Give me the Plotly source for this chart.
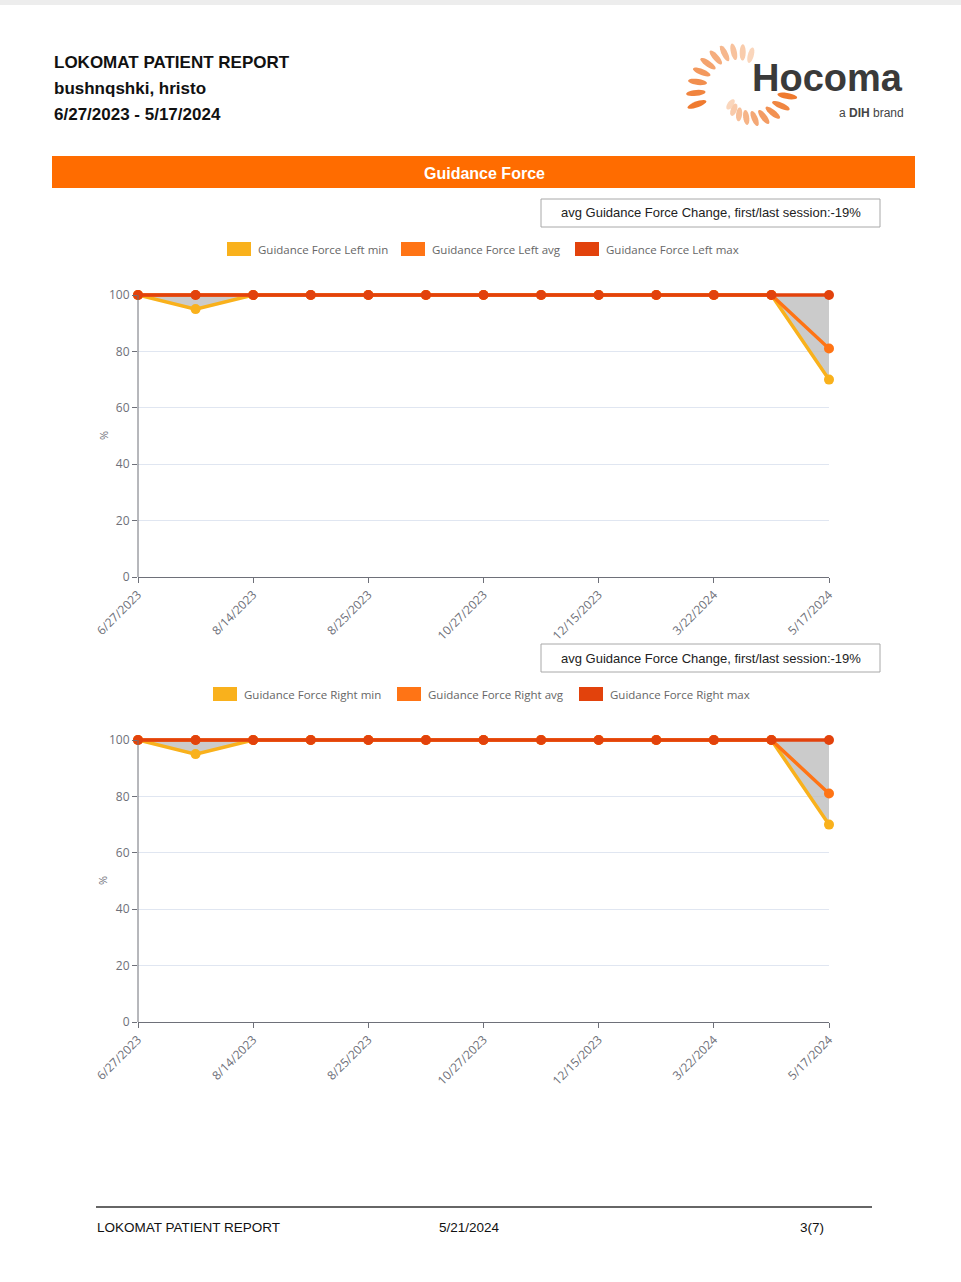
import numpy as np
import plotly.graph_objects as go

W, H = 961, 1282

# ---------------- data ----------------
tick_labels = ["6/27/2023", "8/14/2023", "8/25/2023", "10/27/2023",
               "12/15/2023", "3/22/2024", "5/17/2024"]
sessions = list(range(13))

left_min = [100, 95, 100, 100, 100, 100, 100, 100, 100, 100, 100, 100, 70]
left_avg = [100, 100, 100, 100, 100, 100, 100, 100, 100, 100, 100, 100, 81]
left_max = [100, 100, 100, 100, 100, 100, 100, 100, 100, 100, 100, 100, 100]

right_min = [100, 95, 100, 100, 100, 100, 100, 100, 100, 100, 100, 100, 70]
right_avg = [100, 100, 100, 100, 100, 100, 100, 100, 100, 100, 100, 100, 81]
right_max = [100, 100, 100, 100, 100, 100, 100, 100, 100, 100, 100, 100, 100]

left_names = ["Guidance Force Left min", "Guidance Force Left avg", "Guidance Force Left max"]
right_names = ["Guidance Force Right min", "Guidance Force Right avg", "Guidance Force Right max"]
change_text = "avg Guidance Force Change, first/last session:-19%"

# ---------------- styles ----------------
C_MIN, C_AVG, C_MAX = "#F9B11C", "#FF7415", "#E2420C"
C_FILL = "rgba(190,190,190,0.8)"
AXIS = "#6E7079"
GRID = "#E0E6F1"
ORANGE = "#FF6C00"
Y_TOP = 101.5   # small headroom so the 100-line is not clipped


def X(px):
    return px / W


def Y(py):
    return 1 - py / H


fig = go.Figure()
shapes, annots = [], []

charts = [
    dict(top=295, bot=577, xa="x", ya="y", mn=left_min, av=left_avg, mx=left_max,
         names=left_names, leg_y=249, leg_x=[227, 401, 575], box_y=213),
    dict(top=740, bot=1022, xa="x2", ya="y2", mn=right_min, av=right_avg, mx=right_max,
         names=right_names, leg_y=694, leg_x=[213, 397, 579], box_y=658),
]

for ch in charts:
    xa, ya = ch["xa"], ch["ya"]
    # grey band between max and min
    fig.add_trace(go.Scatter(x=sessions, y=ch["mx"], mode="lines", line=dict(width=0),
                             showlegend=False, hoverinfo="skip", xaxis=xa, yaxis=ya))
    fig.add_trace(go.Scatter(x=sessions, y=ch["mn"], mode="lines", line=dict(width=0),
                             fill="tonexty", fillcolor=C_FILL,
                             showlegend=False, hoverinfo="skip", xaxis=xa, yaxis=ya))
    for vals, col, nm in zip([ch["mn"], ch["av"], ch["mx"]], [C_MIN, C_AVG, C_MAX], ch["names"]):
        fig.add_trace(go.Scatter(x=sessions, y=vals, mode="lines+markers", name=nm,
                                 line=dict(color=col, width=3.5),
                                 marker=dict(color=col, size=10),
                                 cliponaxis=False, showlegend=False, hoverinfo="skip",
                                 xaxis=xa, yaxis=ya))
    # y axis line (drawn only from 0 to 100)
    shapes.append(dict(type="line", xref="paper", yref="paper", x0=X(138), x1=X(138),
                       y0=Y(ch["bot"]), y1=Y(ch["top"]), line=dict(color=AXIS, width=1)))
    # legend (rectangles + text)
    for lx, col, nm in zip(ch["leg_x"], [C_MIN, C_AVG, C_MAX], ch["names"]):
        shapes.append(dict(type="rect", xref="paper", yref="paper",
                           x0=X(lx), x1=X(lx + 24), y0=Y(ch["leg_y"] - 7), y1=Y(ch["leg_y"] + 7),
                           fillcolor=col, line=dict(width=0)))
        annots.append(dict(x=X(lx + 29), y=Y(ch["leg_y"]), xref="paper", yref="paper",
                           text=nm, showarrow=False, xanchor="left", yanchor="middle",
                           font=dict(family="Open Sans", size=11.5, color="#666666")))
    # change box
    shapes.append(dict(type="rect", xref="paper", yref="paper",
                       x0=X(541), x1=X(880), y0=Y(ch["box_y"] - 14), y1=Y(ch["box_y"] + 14),
                       fillcolor="white", line=dict(color="#A8A8A8", width=1)))
    annots.append(dict(x=X(711), y=Y(ch["box_y"]), xref="paper", yref="paper",
                       text=change_text, showarrow=False, xanchor="center", yanchor="middle",
                       font=dict(family="Liberation Sans", size=13, color="#222222")))
    # y title
    annots.append(dict(x=X(103), y=Y((ch["top"] + ch["bot"]) / 2), xref="paper", yref="paper",
                       text="%", showarrow=False, textangle=-90, xanchor="center", yanchor="middle",
                       font=dict(family="Open Sans", size=11, color=AXIS)))

axis_common_x = dict(range=[0, 12], tickvals=sessions[::2], ticktext=tick_labels,
                     tickangle=-45, showline=True, linecolor=AXIS, linewidth=1,
                     ticks="outside", ticklen=5, tickcolor=AXIS, showgrid=False, zeroline=False,
                     tickfont=dict(family="Open Sans", size=12, color=AXIS), fixedrange=True,
                     automargin=False)
axis_common_y = dict(range=[0, Y_TOP], tickvals=[0, 20, 40, 60, 80, 100],
                     showline=False,
                     ticks="outside", ticklen=5, tickcolor=AXIS,
                     showgrid=True, gridcolor=GRID, gridwidth=1, zeroline=False,
                     tickfont=dict(family="Open Sans", size=12, color=AXIS), fixedrange=True,
                     automargin=False)


def ydom(top, bot):
    ppu = (bot - top) / 100.0
    return [Y(bot), Y(top - (Y_TOP - 100) * ppu)]


fig.update_layout(
    xaxis=dict(domain=[X(138), X(829)], anchor="y", **axis_common_x),
    yaxis=dict(domain=ydom(295, 577), anchor="x", **axis_common_y),
    xaxis2=dict(domain=[X(138), X(829)], anchor="y2", **axis_common_x),
    yaxis2=dict(domain=ydom(740, 1022), anchor="x2", **axis_common_y),
)

# ---------------- page decorations ----------------
shapes.append(dict(type="rect", xref="paper", yref="paper", x0=0, x1=1, y0=Y(5), y1=1,
                   fillcolor="#EDEDED", line=dict(width=0), layer="below"))
# orange band
shapes.append(dict(type="rect", xref="paper", yref="paper", x0=X(52), x1=X(915),
                   y0=Y(188), y1=Y(156), fillcolor=ORANGE, line=dict(width=0)))
annots.append(dict(x=X(484), y=Y(173), xref="paper", yref="paper", text="<b>Guidance Force</b>",
                   showarrow=False, xanchor="center", yanchor="middle",
                   font=dict(family="Liberation Sans", size=16, color="white")))
# header
for txt, py in [("LOKOMAT PATIENT REPORT", 62), ("bushnqshki, hristo", 88),
                ("6/27/2023 - 5/17/2024", 114)]:
    annots.append(dict(x=X(52), y=Y(py), xref="paper", yref="paper", text="<b>" + txt + "</b>",
                       showarrow=False, xanchor="left", yanchor="middle",
                       font=dict(family="Liberation Sans", size=17, color="#111111")))
# footer
shapes.append(dict(type="line", xref="paper", yref="paper", x0=X(96), x1=X(872),
                   y0=Y(1207), y1=Y(1207), line=dict(color="#333333", width=1.5)))
for txt, px, anc in [("LOKOMAT PATIENT REPORT", 95, "left"), ("5/21/2024", 437, "left"),
                     ("3(7)", 826, "right")]:
    annots.append(dict(x=X(px), y=Y(1227), xref="paper", yref="paper", text=txt,
                       showarrow=False, xanchor=anc, yanchor="middle",
                       font=dict(family="Liberation Sans", size=13.5, color="#111111")))

# logo text
annots.append(dict(x=X(750), y=Y(78), xref="paper", yref="paper", text="<b>Hocoma</b>",
                   showarrow=False, xanchor="left", yanchor="middle",
                   font=dict(family="Liberation Sans", size=38, color="#3A3A3A")))
annots.append(dict(x=X(906), y=Y(113), xref="paper", yref="paper",
                   text="a <b>DIH</b> brand", showarrow=False, xanchor="right", yanchor="middle",
                   font=dict(family="Liberation Sans", size=12, color="#444444")))


# logo swirl petals
def petal(cx, cy, ang, length, width):
    t = np.linspace(0, 2 * np.pi, 24)
    ex = length / 2 * np.cos(t)
    ey = width / 2 * np.sin(t)
    ca, sa = np.cos(ang), np.sin(ang)
    pxs = cx + ex * ca - ey * sa
    pys = cy - (ex * sa + ey * ca)
    pts = [f"{X(a):.5f},{Y(b):.5f}" for a, b in zip(pxs, pys)]
    return "M" + " L".join(pts) + " Z"


def mix(c1, c2, f):
    a = [int(c1[i:i + 2], 16) for i in (1, 3, 5)]
    b = [int(c2[i:i + 2], 16) for i in (1, 3, 5)]
    return "#" + "".join(f"{int(round(a[k] + (b[k] - a[k]) * f)):02X}" for k in range(3))


DARK, LIGHT = "#EF7A2F", "#FAD6BC"
lcx, lcy = 742, 88
# upper-left arc
nA = 10
for i in range(nA):
    f = i / (nA - 1)
    th = np.radians(200 - 125 * f)
    r = 48 - 14 * f
    cx, cy = lcx + r * np.cos(th), lcy - r * np.sin(th)
    shapes.append(dict(type="path", xref="paper", yref="paper", path=petal(cx, cy, th, 20 - 4 * f, 6),
                       fillcolor=mix(DARK, LIGHT, f), line=dict(width=0)))
# lower arc
nB = 9
for i in range(nB):
    f = i / (nB - 1)
    th = np.radians(235 + 115 * f)
    r = 20 + 26 * f
    cx, cy = lcx + r * np.cos(th), lcy - r * np.sin(th)
    shapes.append(dict(type="path", xref="paper", yref="paper", path=petal(cx, cy, th, 12 + 8 * f, 6),
                       fillcolor=mix(LIGHT, DARK, f), line=dict(width=0)))

fig.update_layout(
    width=W, height=H, margin=dict(l=0, r=0, t=0, b=0, pad=0, autoexpand=False),
    paper_bgcolor="white", plot_bgcolor="white",
    showlegend=False, shapes=shapes, annotations=annots,
)

fig.write_html("out.html", config={"displayModeBar": False},
               post_script="document.body.style.margin='0';document.documentElement.style.overflow='hidden';")
